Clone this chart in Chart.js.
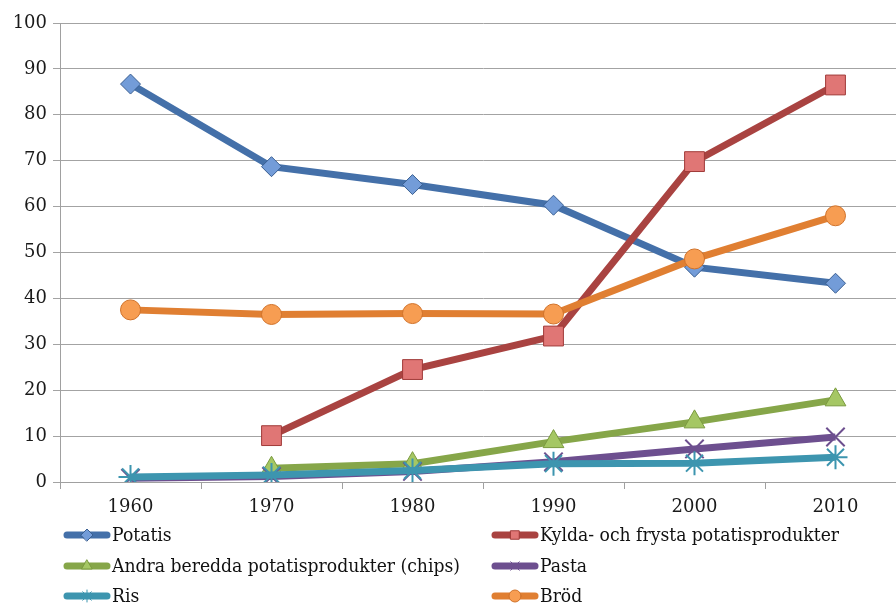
<!DOCTYPE html>
<html>
<head>
<meta charset="utf-8">
<script src="https://cdn.jsdelivr.net/npm/chart.js@4/dist/chart.umd.min.js"></script>
<style>
    html, body { margin: 0; padding: 0; background: #fff; overflow: hidden; }
    #chart { position: absolute; left: 0; top: 0; width: 921px; height: 606px; }
</style>
</head>
<body>
<canvas id="chart" width="921" height="606"></canvas>
<script>
    "use strict";

    // Data
    const years = ['1960', '1970', '1980', '1990', '2000', '2010'];
    const potatis = [86.7, 68.7, 64.8, 60.3, 46.8, 43.3];
    const kylda = [null, 10.1, 24.5, 31.8, 69.8, 86.5];
    const andra = [null, 3.0, 4.0, 8.8, 13.1, 17.9];
    const pasta = [0.8, 1.2, 2.3, 4.4, 7.2, 9.8];
    const ris = [1.1, 1.5, 2.5, 4.0, 4.1, 5.4];
    const brod = [37.5, 36.5, 36.7, 36.6, 48.6, 58.0];
    const seriesNames = ['Potatis', 'Kylda- och frysta potatisprodukter',
        'Andra beredda potatisprodukter (chips)', 'Pasta', 'Ris', 'Bröd'];

    const styles = [
        { line: '#4470A9', fill: '#739CD8', edge: '#3A5F91', point: 'rectRot', r: 10 },
        { line: '#A94341', fill: '#E07675', edge: '#A03A38', point: 'rect', r: 14 },
        { line: '#86A649', fill: '#A5C764', edge: '#7A9A3E', point: 'triangle', r: 12 },
        { line: '#6D4F8F', fill: '#6D4F8F', edge: '#6D4F8F', point: 'crossRot', r: 13 },
        { line: '#3D95AF', fill: '#3D95AF', edge: '#3D95AF', point: 'star', r: 12 },
        { line: '#E07F32', fill: '#F79D52', edge: '#D0722A', point: 'circle', r: 10 }
    ];
    const values = [potatis, kylda, andra, pasta, ris, brod];

    const tickFont = { family: '"DejaVu Serif", serif', size: 18 };

    const datasets = values.map(function (v, i) {
        const s = styles[i];
        return {
            label: seriesNames[i],
            data: v,
            borderColor: s.line,
            borderWidth: 7,
            tension: 0,
            spanGaps: false,
            pointStyle: s.point,
            pointRadius: s.r,
            pointHoverRadius: s.r,
            pointBackgroundColor: s.fill,
            pointBorderColor: s.edge,
            pointBorderWidth: (s.point === 'crossRot' || s.point === 'star') ? 2 : 1,
            order: 6 - i
        };
    });

    // Two-column legend under the axis
    const twoColLegend = {
        id: 'twoColLegend',
        afterDraw: function (chart) {
            const g = chart.ctx;
            const colX = [64, 492];
            const rowY = [535, 566, 596];
            g.save();
            g.font = '18px "DejaVu Serif", serif';
            g.textBaseline = 'middle';
            const squeeze = 348 / g.measureText(seriesNames[2]).width;
            chart.data.datasets.forEach(function (ds, i) {
                const s = styles[i];
                const x = colX[i % 2];
                const y = rowY[Math.floor(i / 2)];
                g.strokeStyle = s.line;
                g.lineWidth = 7;
                g.lineCap = 'round';
                g.beginPath(); g.moveTo(x + 3, y); g.lineTo(x + 43, y); g.stroke();
                g.fillStyle = s.fill;
                g.strokeStyle = s.edge;
                g.lineWidth = 1;
                Chart.helpers.drawPoint(g, { pointStyle: s.point, radius: 6, rotation: 0, borderWidth: 1 }, x + 23, y);
                g.save();
                g.translate(x + 48, y + 1);
                g.scale(squeeze, 1);
                g.fillStyle = '#111';
                g.fillText(ds.label, 0, 0);
                g.restore();
            });
            g.restore();
        }
    };

    const ctx = document.getElementById('chart').getContext('2d');
    new Chart(ctx, {
        type: 'line',
        data: { labels: years, datasets: datasets },
        plugins: [twoColLegend],
        options: {
            responsive: false,
            animation: false,
            layout: { padding: { top: 23, right: 2, left: 0, bottom: 76 } },
            plugins: {
                legend: { display: false },
                tooltip: { enabled: false }
            },
            scales: {
                x: {
                    offset: true,
                    grid: { offset: true, drawOnChartArea: false, color: '#A0A0A0', tickLength: 7 },
                    border: { color: '#A0A0A0' },
                    ticks: { color: '#1a1a1a', padding: 8, font: tickFont },
                    afterFit: function (scale) {
                        scale.height = 48;
                        scale.paddingLeft = 0;
                        scale.paddingRight = 0;
                    }
                },
                y: {
                    min: 0,
                    max: 100,
                    ticks: { stepSize: 10, color: '#1a1a1a', padding: 6, font: tickFont },
                    grid: { color: '#A3A3A3', tickLength: 7 },
                    border: { color: '#A0A0A0' },
                    afterFit: function (scale) {
                        scale.width = 60;
                        scale.paddingTop = 0;
                        scale.paddingBottom = 0;
                    }
                }
            }
        }
    });
</script>
</body>
</html>
